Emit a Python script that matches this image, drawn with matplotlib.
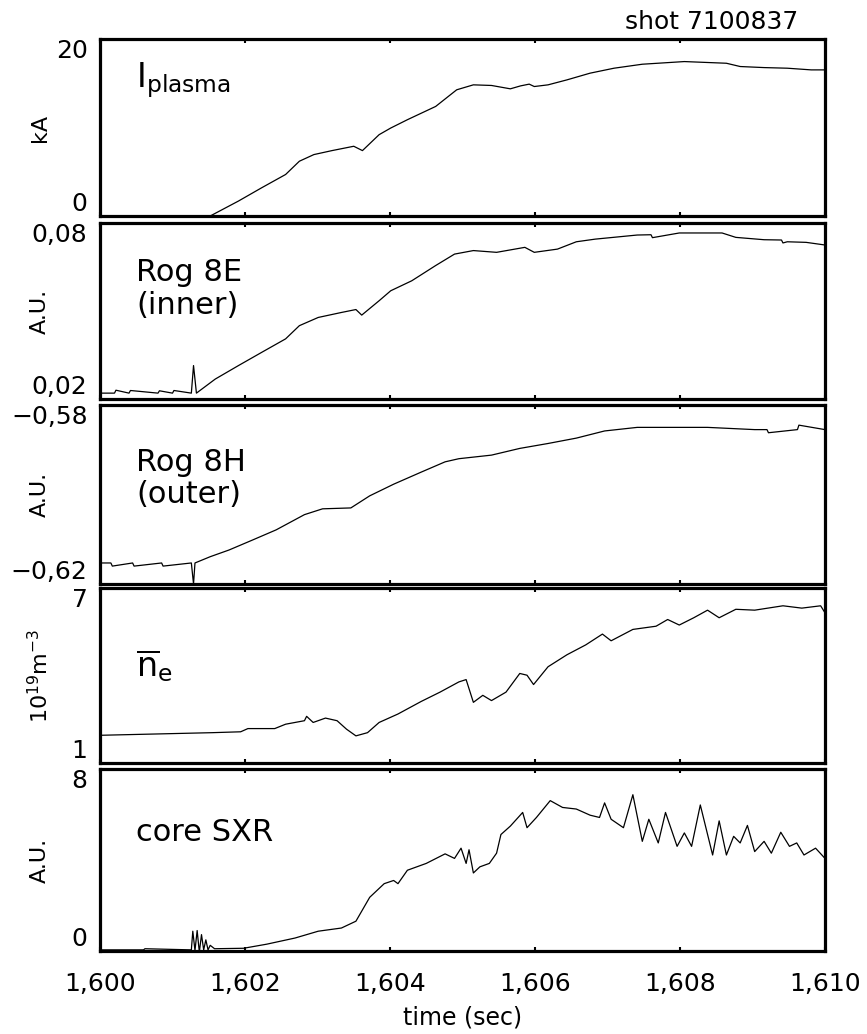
"""
Five-panel time traces for shot 7100837
"""

import matplotlib.pyplot as plt

# Plasma current (kA)
ip_t = [1.60000, 1.60152, 1.60191, 1.60223, 1.60256, 1.60275, 1.60295, 1.60320,
        1.60350, 1.60362, 1.60385, 1.60401, 1.60424, 1.60463, 1.60492, 1.60515,
        1.60540, 1.60566, 1.60580, 1.60592, 1.60599, 1.60618, 1.60644, 1.60676,
        1.60709, 1.60748, 1.60806, 1.60864, 1.60883, 1.60916, 1.60948, 1.60981,
        1.61000]
ip_v = [-0.5, 0.0, 1.69, 3.19, 4.69, 6.19, 6.94, 7.39,
        7.88, 7.39, 9.19, 9.94, 10.88, 12.38, 14.26, 14.82,
        14.75, 14.37, 14.70, 14.90, 14.63, 14.82, 15.38, 16.14,
        16.70, 17.15, 17.45, 17.26, 16.89, 16.77, 16.70, 16.51,
        16.51]

# Rogowski 8E (inner), A.U.
r8e_t = [1.60000, 1.60020, 1.60022, 1.60040, 1.60042, 1.60080, 1.60082, 1.60100,
         1.60102, 1.60126, 1.60129, 1.60133, 1.60159, 1.60191, 1.60223, 1.60256,
         1.60275, 1.60301, 1.60333, 1.60353, 1.60361, 1.60385, 1.60401, 1.60430,
         1.60463, 1.60489, 1.60515, 1.60547, 1.60586, 1.60599, 1.60631, 1.60657,
         1.60683, 1.60741, 1.60760, 1.60762, 1.60799, 1.60858, 1.60877, 1.60916,
         1.60940, 1.60942, 1.60948, 1.60974, 1.61000]
r8e_v = [0.0220, 0.0220, 0.0230, 0.0220, 0.0229, 0.0220, 0.0228, 0.0220,
         0.0229, 0.0220, 0.0314, 0.0220, 0.0268, 0.0314, 0.0359, 0.0405,
         0.0450, 0.0478, 0.0495, 0.0505, 0.0486, 0.0535, 0.0569, 0.0603,
         0.0655, 0.0694, 0.0706, 0.0700, 0.0717, 0.0700, 0.0711, 0.0736,
         0.0745, 0.0759, 0.0760, 0.0750, 0.0766, 0.0766, 0.0751, 0.0743,
         0.0742, 0.0732, 0.0736, 0.0734, 0.0725]

# Rogowski 8H (outer), A.U.
r8h_t = [1.60000, 1.60015, 1.60017, 1.60045, 1.60047, 1.60085, 1.60087, 1.60126,
         1.60129, 1.60131, 1.60152, 1.60178, 1.60210, 1.60243, 1.60282, 1.60307,
         1.60346, 1.60372, 1.60405, 1.60443, 1.60476, 1.60495, 1.60540, 1.60579,
         1.60618, 1.60657, 1.60696, 1.60741, 1.60838, 1.60903, 1.60920, 1.60922,
         1.60962, 1.60964, 1.61000]
r8h_v = [-0.6153, -0.6153, -0.6160, -0.6153, -0.6160, -0.6153, -0.6160, -0.6153,
         -0.6200, -0.6153, -0.6139, -0.6124, -0.6102, -0.6079, -0.6045, -0.6032,
         -0.6030, -0.6003, -0.5977, -0.5950, -0.5927, -0.5920, -0.5912, -0.5897,
         -0.5886, -0.5874, -0.5858, -0.5850, -0.5850, -0.5855, -0.5855, -0.5862,
         -0.5855, -0.5845, -0.5855]

# Line-averaged density (1e19 m^-3)
ne_t = [1.60000, 1.60155, 1.60194, 1.60204, 1.60241, 1.60256, 1.60282, 1.60285,
        1.60294, 1.60311, 1.60327, 1.60340, 1.60353, 1.60369, 1.60385, 1.60411,
        1.60443, 1.60469, 1.60495, 1.60505, 1.60515, 1.60528, 1.60540, 1.60560,
        1.60579, 1.60589, 1.60598, 1.60618, 1.60644, 1.60670, 1.60693, 1.60705,
        1.60735, 1.60767, 1.60783, 1.60799, 1.60819, 1.60838, 1.60854, 1.60877,
        1.60903, 1.60942, 1.60968, 1.60994, 1.61000]
ne_v = [1.95, 2.04, 2.07, 2.18, 2.18, 2.33, 2.45, 2.60,
        2.39, 2.54, 2.45, 2.16, 1.93, 2.04, 2.39, 2.68,
        3.11, 3.43, 3.78, 3.86, 3.08, 3.32, 3.14, 3.43,
        4.07, 4.01, 3.69, 4.30, 4.71, 5.05, 5.42, 5.19,
        5.58, 5.69, 5.92, 5.73, 5.98, 6.24, 5.98, 6.27,
        6.24, 6.39, 6.31, 6.39, 6.15]

# Core soft x-ray, A.U.
sxr_t = [1.60000, 1.60060, 1.60062, 1.60126, 1.60128, 1.60131, 1.60134, 1.60137,
         1.60140, 1.60143, 1.60146, 1.60149, 1.60152, 1.60158, 1.60198, 1.60230,
         1.60269, 1.60301, 1.60333, 1.60353, 1.60372, 1.60392, 1.60405, 1.60411,
         1.60424, 1.60450, 1.60476, 1.60489, 1.60498, 1.60505, 1.60509, 1.60515,
         1.60524, 1.60537, 1.60547, 1.60553, 1.60566, 1.60583, 1.60589, 1.60602,
         1.60621, 1.60638, 1.60657, 1.60676, 1.60689, 1.60696, 1.60705, 1.60722,
         1.60735, 1.60748, 1.60757, 1.60770, 1.60780, 1.60796, 1.60806, 1.60816,
         1.60828, 1.60845, 1.60854, 1.60864, 1.60874, 1.60883, 1.60893, 1.60903,
         1.60916, 1.60926, 1.60939, 1.60951, 1.60961, 1.60971, 1.60987, 1.61000]
sxr_v = [0.05, 0.05, 0.10, 0.05, 0.87, 0.02, 0.90, -0.05,
         0.72, 0.05, 0.49, 0.05, 0.25, 0.10, 0.12, 0.30,
         0.57, 0.87, 1.01, 1.31, 2.36, 2.96, 3.10, 2.96,
         3.55, 3.85, 4.27, 4.07, 4.52, 3.85, 4.45, 3.43,
         3.70, 3.85, 4.30, 5.12, 5.49, 6.09, 5.42, 5.87,
         6.61, 6.31, 6.24, 5.97, 5.87, 6.51, 5.79, 5.42,
         6.87, 4.82, 5.79, 4.75, 6.09, 4.60, 5.19, 4.60,
         6.42, 4.22, 5.72, 4.22, 5.04, 4.75, 5.52, 4.37,
         4.82, 4.30, 5.22, 4.60, 4.75, 4.22, 4.52, 4.07]

traces = [
    (ip_t, ip_v, (0, 20), ["0", "20"], "kA", r"$\mathregular{I_{plasma}}$"),
    (r8e_t, r8e_v, (0.02, 0.08), ["0,02", "0,08"], "A.U.", "Rog 8E\n(inner)"),
    (r8h_t, r8h_v, (-0.62, -0.58), ["\u22120,62", "\u22120,58"], "A.U.", "Rog 8H\n(outer)"),
    (ne_t, ne_v, (1, 7), ["1", "7"], r"$\mathregular{10^{19}m^{-3}}$",
     r"$\mathregular{\overline{n}_{e}}$"),
    (sxr_t, sxr_v, (0, 8), ["0", "8"], "A.U.", "core SXR"),
]
xticks = [1.600, 1.602, 1.604, 1.606, 1.608, 1.610]
xticklabels = ["1,600", "1,602", "1,604", "1,606", "1,608", "1,610"]

# panel extents in pixels (top, bottom) on an 867x1034 canvas
W, H = 867, 1034
rows = [(39, 216), (223, 399), (405, 584), (588, 763), (769, 951)]
label_y = [0.88, 0.80, 0.76, 0.66, 0.73]
label_size = [24, 22, 22, 24, 22]

fig = plt.figure(figsize=(W / 100, H / 100), dpi=100)

for i, ((t, v, lim, ylabs, ylab, name), (top, bot)) in enumerate(zip(traces, rows)):
    ax = fig.add_axes([100 / W, 1 - bot / H, 725 / W, (bot - top) / H])
    ax.plot(t, v, color="black", linewidth=0.9)
    ax.set_xlim(1.600, 1.610)
    ax.set_ylim(*lim)
    for s in ax.spines.values():
        s.set_linewidth(2.3)

    ax.set_xticks(xticks)
    ax.tick_params(axis="x", direction="in", top=True, length=3, width=1.5,
                   labelsize=18, pad=15)
    if i < len(traces) - 1:
        ax.set_xticklabels([])
    else:
        ax.set_xticklabels(xticklabels)
        ax.set_xlabel("time (sec)", fontsize=17, labelpad=7)

    ax.set_yticks(lim, ylabs)
    ax.tick_params(axis="y", length=0, labelsize=18, pad=9)
    tl = ax.get_yticklabels()
    tl[0].set_verticalalignment("bottom")
    tl[1].set_verticalalignment("top")

    ax.set_ylabel(ylab, fontsize=16)
    ax.yaxis.set_label_coords(-60 / 725, 0.5)
    ax.yaxis.label.set_verticalalignment("center")

    ax.text(0.05, label_y[i], name, transform=ax.transAxes, fontsize=label_size[i],
            ha="left", va="top", linespacing=1.15)

fig.text(798 / W, 1 - 22 / H, "shot 7100837", fontsize=18, ha="right", va="center")

fig.savefig("out.png", dpi=100)
